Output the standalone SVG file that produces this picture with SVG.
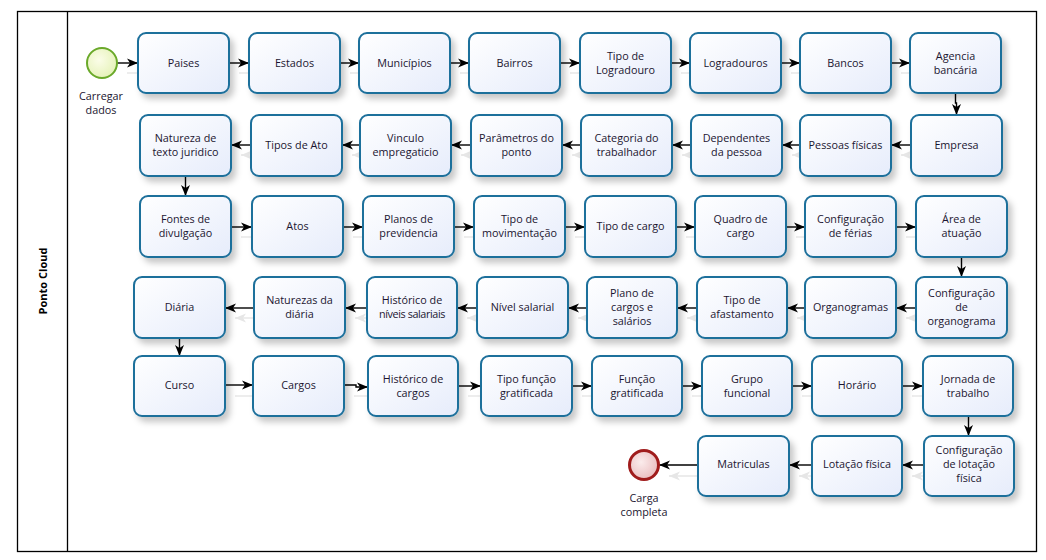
<svg xmlns="http://www.w3.org/2000/svg" width="1046" height="560" viewBox="0 0 1046 560">
<defs>
<linearGradient id="boxg" x1="0" y1="0" x2="1" y2="1">
<stop offset="0" stop-color="#ffffff"/>
<stop offset="1" stop-color="#e6ecfb"/>
</linearGradient>
<radialGradient id="startg" cx="0.4" cy="0.4" r="0.7">
<stop offset="0" stop-color="#fbfde8"/>
<stop offset="1" stop-color="#e3f1b4"/>
</radialGradient>
<radialGradient id="endg" cx="0.4" cy="0.4" r="0.7">
<stop offset="0" stop-color="#fbecec"/>
<stop offset="1" stop-color="#e9b9bb"/>
</radialGradient>
<filter id="sh" x="-20%" y="-20%" width="150%" height="160%">
<feDropShadow dx="4" dy="5" stdDeviation="3" flood-color="#000" flood-opacity="0.22"/>
</filter>
<marker id="arr" viewBox="0 0 11 10" refX="11" refY="5" markerWidth="11" markerHeight="10" markerUnits="userSpaceOnUse" orient="auto">
<path d="M0,0.5 L11,5 L0,9.5 L3,5 z" fill="#000"/>
</marker>
<marker id="arrg" viewBox="0 0 11 10" refX="11" refY="5" markerWidth="11" markerHeight="10" markerUnits="userSpaceOnUse" orient="auto">
<path d="M0,0.5 L11,5 L0,9.5 L3,5 z" fill="#e6e6e6"/>
</marker>
</defs>
<style>
.box{fill:url(#boxg);stroke:#1d6f9b;stroke-width:2;filter:url(#sh)}
.t{font-family:"Open Sans","Noto Sans","DejaVu Sans",sans-serif;font-size:10.8px;fill:#1b1530;text-anchor:middle;dominant-baseline:central;transform:translateY(-1px)}
.c{stroke:#000;stroke-width:1.4;fill:none;marker-end:url(#arr)}
.cg{stroke:#e6e6e6;stroke-width:1.4;fill:none;marker-end:url(#arrg)}
.pool{fill:#fff;stroke:#000;stroke-width:1.3}
.lane{font-family:"Open Sans","Noto Sans","DejaVu Sans",sans-serif;font-size:11px;font-weight:bold;fill:#000;text-anchor:middle;dominant-baseline:central}
</style>
<rect width="1046" height="560" fill="#fff"/>
<g id="pool">
<rect class="pool" x="17.5" y="11.5" width="1019" height="540"/>
<line x1="67.5" y1="11.5" x2="67.5" y2="551.5" stroke="#000" stroke-width="1.3"/>
<text class="lane" transform="translate(42,281) rotate(-90)">Ponto Cloud</text>
</g>
<g id="connector-shadows" transform="translate(10,10)">
<path class="cg" d="M117,63 H138"/>
<path class="cg" d="M229,63 H249"/><path class="cg" d="M340,63 H359"/><path class="cg" d="M450,63 H469"/><path class="cg" d="M560,63 H580"/><path class="cg" d="M671,63 H690"/><path class="cg" d="M781,63 H800"/><path class="cg" d="M891,63 H910"/>
<path class="cg" d="M911,145 H891"/><path class="cg" d="M800,145 H782"/><path class="cg" d="M691,145 H672"/><path class="cg" d="M581,145 H562"/><path class="cg" d="M471,145 H451"/><path class="cg" d="M360,145 H342"/><path class="cg" d="M251,145 H231"/>
<path class="cg" d="M231,227 H252"/><path class="cg" d="M343,227 H363"/><path class="cg" d="M454,227 H474"/><path class="cg" d="M565,227 H585"/><path class="cg" d="M676,227 H695"/><path class="cg" d="M786,227 H805"/><path class="cg" d="M896,227 H916"/>
<path class="cg" d="M916,308 H896"/><path class="cg" d="M805,308 H787"/><path class="cg" d="M697,308 H677"/><path class="cg" d="M587,308 H568"/><path class="cg" d="M477,308 H457"/><path class="cg" d="M367,308 H345"/><path class="cg" d="M254,308 H225"/>
<path class="cg" d="M225,386 H253"/><path class="cg" d="M344,386 H368"/><path class="cg" d="M458,386 H481"/><path class="cg" d="M572,386 H592"/><path class="cg" d="M682,386 H702"/><path class="cg" d="M792,386 H812"/><path class="cg" d="M902,386 H923"/>
<path class="cg" d="M924,466 H902"/><path class="cg" d="M812,466 H789"/><path class="cg" d="M698,466 H659"/>
</g>
<g id="connectors">
<path class="c" d="M117,63 H138"/>
<path class="c" d="M229,63 H249"/><path class="c" d="M340,63 H359"/><path class="c" d="M450,63 H469"/><path class="c" d="M560,63 H580"/><path class="c" d="M671,63 H690"/><path class="c" d="M781,63 H800"/><path class="c" d="M891,63 H910"/>
<path class="c" d="M955.5,93 V103 H956.5 V115"/>
<path class="c" d="M911,145 H891"/><path class="c" d="M800,145 H782"/><path class="c" d="M691,145 H672"/><path class="c" d="M581,145 H562"/><path class="c" d="M471,145 H451"/><path class="c" d="M360,145 H342"/><path class="c" d="M251,145 H231"/>
<path class="c" d="M185.5,176 V196"/>
<path class="c" d="M231,227 H252"/><path class="c" d="M343,227 H363"/><path class="c" d="M454,227 H474"/><path class="c" d="M565,227 H585"/><path class="c" d="M676,227 H695"/><path class="c" d="M786,227 H805"/><path class="c" d="M896,227 H916"/>
<path class="c" d="M961.5,257 V277"/>
<path class="c" d="M916,308 H896"/><path class="c" d="M805,308 H787"/><path class="c" d="M697,308 H677"/><path class="c" d="M587,308 H568"/><path class="c" d="M477,308 H457"/><path class="c" d="M367,308 H345"/><path class="c" d="M254,308 H225"/>
<path class="c" d="M179.5,338 V356"/>
<path class="c" d="M225,385 H253"/><path class="c" d="M344,385 H356 V387 H368"/><path class="c" d="M458,386 H481"/><path class="c" d="M572,386 H592"/><path class="c" d="M682,386 H702"/><path class="c" d="M792,386 H812"/><path class="c" d="M902,386 H923"/>
<path class="c" d="M968.5,416 V436"/>
<path class="c" d="M924,465 H902"/><path class="c" d="M812,465 H789"/><path class="c" d="M698,465 H659"/>
</g>
<g id="start">
<circle cx="102" cy="63" r="15" fill="url(#startg)" stroke="#6aa92a" stroke-width="2"/>
<text class="t" x="101" y="96">Carregar</text><text class="t" x="101" y="110">dados</text>
</g>
<g id="end">
<circle cx="644" cy="465" r="14.5" fill="url(#endg)" stroke="#a01c1c" stroke-width="3"/>
<text class="t" x="644" y="498">Carga</text><text class="t" x="644" y="512">completa</text>
</g>
<g id="n-paises"><rect class="box" x="138" y="33" width="91" height="60" rx="8"/><text class="t" x="183.5" y="63">Paises</text></g>
<g id="n-estados"><rect class="box" x="249" y="33" width="91" height="60" rx="8"/><text class="t" x="294.5" y="63">Estados</text></g>
<g id="n-municipios"><rect class="box" x="359" y="33" width="91" height="60" rx="8"/><text class="t" x="404.5" y="63">Municípios</text></g>
<g id="n-bairros"><rect class="box" x="469" y="33" width="91" height="60" rx="8"/><text class="t" x="514.5" y="63">Bairros</text></g>
<g id="n-tipo-logradouro"><rect class="box" x="580" y="33" width="91" height="60" rx="8"/><text class="t" x="625.5" y="56">Tipo de</text><text class="t" x="625.5" y="70">Logradouro</text></g>
<g id="n-logradouros"><rect class="box" x="690" y="33" width="91" height="60" rx="8"/><text class="t" x="735.5" y="63">Logradouros</text></g>
<g id="n-bancos"><rect class="box" x="800" y="33" width="91" height="60" rx="8"/><text class="t" x="845.5" y="63">Bancos</text></g>
<g id="n-agencia"><rect class="box" x="910" y="33" width="91" height="60" rx="8"/><text class="t" x="955.5" y="56">Agencia</text><text class="t" x="955.5" y="70">bancária</text></g>
<g id="n-empresa"><rect class="box" x="911" y="115" width="91" height="61" rx="8"/><text class="t" x="956.5" y="145">Empresa</text></g>
<g id="n-pessoas"><rect class="box" x="800" y="115" width="91" height="61" rx="8"/><text class="t" x="845.5" y="145">Pessoas físicas</text></g>
<g id="n-dependentes"><rect class="box" x="691" y="115" width="91" height="61" rx="8"/><text class="t" x="736.5" y="138">Dependentes</text><text class="t" x="736.5" y="152">da pessoa</text></g>
<g id="n-categoria"><rect class="box" x="581" y="115" width="91" height="61" rx="8"/><text class="t" x="626.5" y="138">Categoria do</text><text class="t" x="626.5" y="152">trabalhador</text></g>
<g id="n-parametros"><rect class="box" x="471" y="115" width="91" height="61" rx="8"/><text class="t" x="516.5" y="138">Parâmetros do</text><text class="t" x="516.5" y="152">ponto</text></g>
<g id="n-vinculo"><rect class="box" x="360" y="115" width="91" height="61" rx="8"/><text class="t" x="405.5" y="138">Vinculo</text><text class="t" x="405.5" y="152">empregaticio</text></g>
<g id="n-tipos-ato"><rect class="box" x="251" y="115" width="91" height="61" rx="8"/><text class="t" x="296.5" y="145">Tipos de Ato</text></g>
<g id="n-natureza-texto"><rect class="box" x="140" y="115" width="91" height="61" rx="8"/><text class="t" x="185.5" y="138">Natureza de</text><text class="t" x="185.5" y="152">texto juridico</text></g>
<g id="n-fontes"><rect class="box" x="140" y="196" width="91" height="61" rx="8"/><text class="t" x="185.5" y="219">Fontes de</text><text class="t" x="185.5" y="233">divulgação</text></g>
<g id="n-atos"><rect class="box" x="252" y="196" width="91" height="61" rx="8"/><text class="t" x="297.5" y="226">Atos</text></g>
<g id="n-planos-prev"><rect class="box" x="363" y="196" width="91" height="61" rx="8"/><text class="t" x="408.5" y="219">Planos de</text><text class="t" x="408.5" y="233">previdencia</text></g>
<g id="n-tipo-mov"><rect class="box" x="474" y="196" width="91" height="61" rx="8"/><text class="t" x="519.5" y="219">Tipo de</text><text class="t" x="519.5" y="233">movimentação</text></g>
<g id="n-tipo-cargo"><rect class="box" x="585" y="196" width="91" height="61" rx="8"/><text class="t" x="630.5" y="226">Tipo de cargo</text></g>
<g id="n-quadro"><rect class="box" x="695" y="196" width="91" height="61" rx="8"/><text class="t" x="740.5" y="219">Quadro de</text><text class="t" x="740.5" y="233">cargo</text></g>
<g id="n-config-ferias"><rect class="box" x="805" y="196" width="91" height="61" rx="8"/><text class="t" x="850.5" y="219">Configuração</text><text class="t" x="850.5" y="233">de férias</text></g>
<g id="n-area"><rect class="box" x="916" y="196" width="91" height="61" rx="8"/><text class="t" x="961.5" y="219">Área de</text><text class="t" x="961.5" y="233">atuação</text></g>
<g id="n-config-organograma"><rect class="box" x="916" y="277" width="91" height="61" rx="8"/><text class="t" x="961.5" y="293">Configuração</text><text class="t" x="961.5" y="307">de</text><text class="t" x="961.5" y="321">organograma</text></g>
<g id="n-organogramas"><rect class="box" x="805" y="277" width="91" height="61" rx="8"/><text class="t" x="850.5" y="307">Organogramas</text></g>
<g id="n-tipo-afast"><rect class="box" x="697" y="277" width="90" height="61" rx="8"/><text class="t" x="742" y="300">Tipo de</text><text class="t" x="742" y="314">afastamento</text></g>
<g id="n-plano-cargos"><rect class="box" x="587" y="277" width="90" height="61" rx="8"/><text class="t" x="632" y="293">Plano de</text><text class="t" x="632" y="307">cargos e</text><text class="t" x="632" y="321">salários</text></g>
<g id="n-nivel"><rect class="box" x="477" y="277" width="91" height="61" rx="8"/><text class="t" x="522.5" y="307">Nível salarial</text></g>
<g id="n-hist-niveis"><rect class="box" x="367" y="277" width="90" height="61" rx="8"/><text class="t" x="412" y="300">Histórico de</text><text class="t" x="412" y="314" letter-spacing="-0.4">níveis salariais</text></g>
<g id="n-naturezas-diaria"><rect class="box" x="254" y="277" width="91" height="61" rx="8"/><text class="t" x="299.5" y="300">Naturezas da</text><text class="t" x="299.5" y="314">diária</text></g>
<g id="n-diaria"><rect class="box" x="134" y="277" width="91" height="61" rx="8"/><text class="t" x="179.5" y="307">Diária</text></g>
<g id="n-curso"><rect class="box" x="134" y="356" width="91" height="60" rx="8"/><text class="t" x="179.5" y="385">Curso</text></g>
<g id="n-cargos"><rect class="box" x="253" y="356" width="91" height="60" rx="8"/><text class="t" x="298.5" y="385">Cargos</text></g>
<g id="n-hist-cargos"><rect class="box" x="368" y="356" width="90" height="60" rx="8"/><text class="t" x="413" y="379">Histórico de</text><text class="t" x="413" y="393">cargos</text></g>
<g id="n-tipo-funcao"><rect class="box" x="481" y="356" width="91" height="60" rx="8"/><text class="t" x="526.5" y="379">Tipo função</text><text class="t" x="526.5" y="393">gratificada</text></g>
<g id="n-funcao-grat"><rect class="box" x="592" y="356" width="90" height="60" rx="8"/><text class="t" x="637" y="379">Função</text><text class="t" x="637" y="393">gratificada</text></g>
<g id="n-grupo"><rect class="box" x="702" y="356" width="90" height="60" rx="8"/><text class="t" x="747" y="379">Grupo</text><text class="t" x="747" y="393">funcional</text></g>
<g id="n-horario"><rect class="box" x="812" y="356" width="90" height="60" rx="8"/><text class="t" x="857" y="385">Horário</text></g>
<g id="n-jornada"><rect class="box" x="923" y="356" width="90" height="60" rx="8"/><text class="t" x="968" y="379">Jornada de</text><text class="t" x="968" y="393">trabalho</text></g>
<g id="n-config-lotacao"><rect class="box" x="924" y="436" width="90" height="60" rx="8"/><text class="t" x="969" y="450">Configuração</text><text class="t" x="969" y="464">de lotação</text><text class="t" x="969" y="478">física</text></g>
<g id="n-lotacao"><rect class="box" x="812" y="436" width="90" height="60" rx="8"/><text class="t" x="857" y="464">Lotação física</text></g>
<g id="n-matriculas"><rect class="box" x="698" y="436" width="91" height="60" rx="8"/><text class="t" x="743.5" y="464">Matriculas</text></g>
</svg>
